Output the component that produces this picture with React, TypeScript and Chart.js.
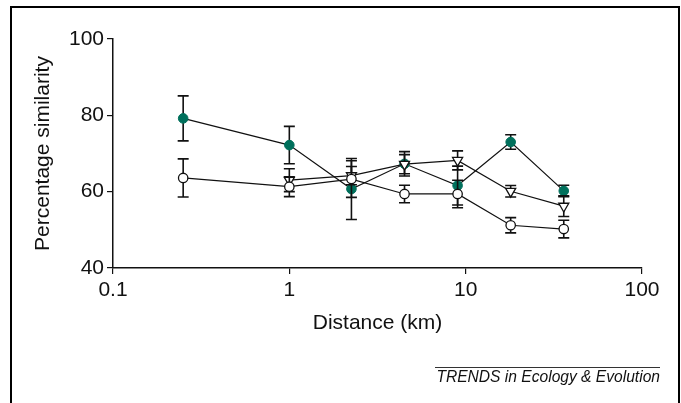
import React, { useEffect, useRef } from 'react';
import { Chart, registerables } from 'chart.js';

Chart.register(...registerables);

const distances = [0.25, 1, 2.25, 4.5, 9, 18, 36];
const greenValues = [79.2, 72.2, 60.7, 67.3, 61.6, 73.0, 60.2];
const greenErrors = [5.9, 4.9, 8.0, 3.2, 5.1, 1.9, 1.5];
const triangleValues = [null, 63.0, 64.2, 67.2, 68.2, 60.1, 56.2];
const triangleErrors = [null, 3.0, 2.4, 2.5, 2.5, 1.5, 2.7];
const openValues = [63.6, 61.3, 63.3, 59.4, 59.4, 51.2, 50.2];
const openErrors = [5.0, 2.6, 4.8, 2.3, 3.6, 2.0, 2.3];
const xTickValues = [0.1, 1, 10, 100];
const yTickValues = [40, 60, 80, 100];

const GREEN = '#00705c';
const FONT = "'Liberation Sans', Arial, sans-serif";

function toPoints(vals: (number | null)[], errs: (number | null)[]) {
  const pts: { x: number; y: number; e: number }[] = [];
  distances.forEach((d, i) => {
    const v = vals[i];
    const e = errs[i];
    if (v !== null && v !== undefined) pts.push({ x: d, y: v, e: e ?? 0 });
  });
  return pts;
}

const errorBarPlugin = {
  id: 'errorBars',
  beforeDatasetDraw(chart: any, args: any) {
    const meta = args.meta;
    const ds = chart.data.datasets[args.index];
    const yScale = chart.scales.y;
    const ctx = chart.ctx;
    ctx.save();
    ctx.strokeStyle = '#111';
    ctx.lineWidth = 1.6;
    meta.data.forEach((el: any, i: number) => {
      const raw = ds.data[i];
      if (!raw || !raw.e) return;
      const x = el.x;
      const yT = yScale.getPixelForValue(raw.y + raw.e);
      const yB = yScale.getPixelForValue(raw.y - raw.e);
      const cap = 5.5;
      ctx.beginPath();
      ctx.moveTo(x, yT);
      ctx.lineTo(x, yB);
      ctx.moveTo(x - cap, yT);
      ctx.lineTo(x + cap, yT);
      ctx.moveTo(x - cap, yB);
      ctx.lineTo(x + cap, yB);
      ctx.stroke();
    });
    ctx.restore();
  },
};

export default function App() {
  const ref = useRef<HTMLCanvasElement | null>(null);

  useEffect(() => {
    if (!ref.current) return;
    Chart.defaults.font.family = FONT;
    const chart = new Chart(ref.current, {
      type: 'line',
      data: {
        datasets: [
          {
            label: 'open',
            data: toPoints(openValues, openErrors) as any,
            borderColor: '#111',
            borderWidth: 1.2,
            backgroundColor: '#fff',
            pointBackgroundColor: '#fff',
            pointBorderColor: '#111',
            pointBorderWidth: 1.3,
            pointRadius: 4.7,
            pointStyle: 'circle',
            tension: 0,
          },
          {
            label: 'triangle',
            data: toPoints(triangleValues, triangleErrors) as any,
            borderColor: '#111',
            borderWidth: 1.2,
            backgroundColor: '#fff',
            pointBackgroundColor: '#fff',
            pointBorderColor: '#111',
            pointBorderWidth: 1.3,
            pointRadius: 5.8,
            pointStyle: 'triangle',
            pointRotation: 180,
            tension: 0,
          },
          {
            label: 'green',
            data: toPoints(greenValues, greenErrors) as any,
            borderColor: '#111',
            borderWidth: 1.2,
            backgroundColor: GREEN,
            pointBackgroundColor: GREEN,
            pointBorderColor: GREEN,
            pointBorderWidth: 1,
            pointRadius: 4.8,
            pointStyle: 'circle',
            tension: 0,
          },
        ],
      },
      options: {
        animation: false,
        responsive: false,
        devicePixelRatio: 1,
        layout: { padding: { left: 26.4, top: 39, right: 39, bottom: 63.4 } },
        plugins: {
          legend: { display: false },
          tooltip: { enabled: false },
        },
        scales: {
          x: {
            type: 'logarithmic',
            min: 0.1,
            max: 100,
            afterBuildTicks: (scale: any) => {
              scale.ticks = xTickValues.map((v) => ({ value: v }));
            },
            afterFit: (scale: any) => {
              scale.height = 71.6;
            },
            ticks: {
              color: '#111',
              font: { size: 21, family: FONT },
              padding: 4,
              autoSkip: false,
              maxRotation: 0,
              callback: (v: any) => String(v),
            },
            grid: {
              display: true,
              drawOnChartArea: false,
              drawTicks: true,
              tickLength: 6,
              color: '#111',
              lineWidth: 1.2,
            },
            border: { display: true, color: '#111', width: 1.5 },
            title: {
              display: true,
              text: 'Distance (km)',
              color: '#111',
              font: { size: 21, family: FONT },
              padding: { top: 4, bottom: 4 },
            },
          },
          y: {
            type: 'linear',
            min: 40,
            max: 100,
            afterBuildTicks: (scale: any) => {
              scale.ticks = yTickValues.map((v) => ({ value: v }));
            },
            afterFit: (scale: any) => {
              scale.width = 86.6;
            },
            ticks: {
              color: '#111',
              font: { size: 21, family: FONT },
              padding: 3,
              callback: (v: any) => String(v),
            },
            grid: {
              display: true,
              drawOnChartArea: false,
              drawTicks: true,
              tickLength: 6,
              color: '#111',
              lineWidth: 1.2,
            },
            border: { display: true, color: '#111', width: 1.5 },
            title: {
              display: true,
              text: 'Percentage similarity',
              color: '#111',
              font: { size: 21, family: FONT },
              padding: { top: 4, bottom: 4 },
            },
          },
        },
      },
      plugins: [errorBarPlugin],
    });
    return () => chart.destroy();
  }, []);

  return (
    <div>
      <canvas
        ref={ref}
        width={681}
        height={403}
        style={{ position: 'absolute', left: 0, top: 0, width: 681, height: 403 }}
      />
      <div
        style={{
          position: 'absolute',
          left: 10,
          top: 6,
          width: 670,
          height: 410,
          border: '2.5px solid #000',
          boxSizing: 'border-box',
          pointerEvents: 'none',
        }}
      />
      <div
        style={{
          position: 'absolute',
          left: 435,
          top: 367,
          width: 225,
          borderTop: '1px solid #333',
          textAlign: 'right',
          fontFamily: FONT,
          fontStyle: 'italic',
          fontSize: 15.6,
          lineHeight: '18px',
          color: '#111',
          whiteSpace: 'nowrap',
        }}
      >
        TRENDS in Ecology &amp; Evolution
      </div>
    </div>
  );
}
